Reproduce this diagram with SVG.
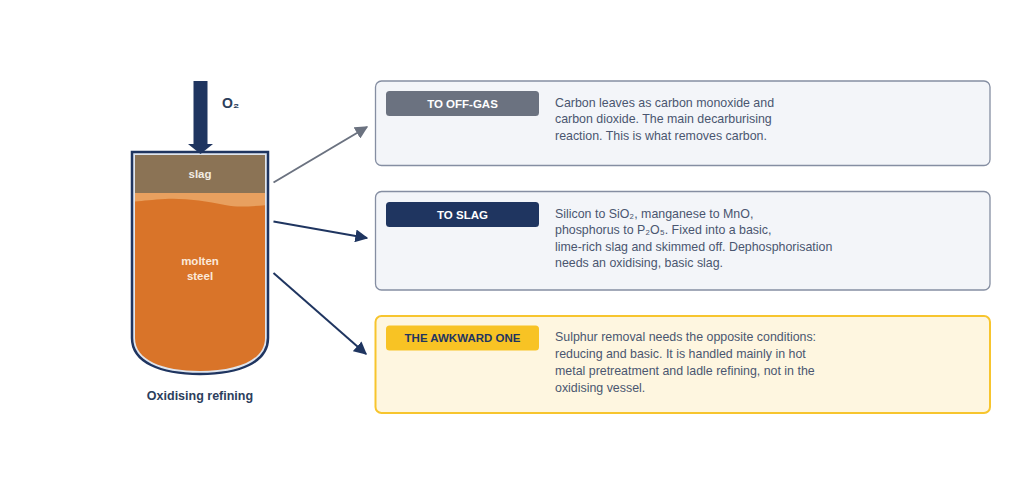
<svg xmlns="http://www.w3.org/2000/svg" width="1024" height="503" viewBox="0 0 1024 503">
<style>
.body{font-family:"Liberation Sans",Arial,sans-serif;font-size:12.4px;fill:#4a5670}
.pill{font-family:"Liberation Sans",Arial,sans-serif;font-size:11.5px;font-weight:bold;text-anchor:middle}
.card{fill:#f3f5f9;stroke:#858ea2;stroke-width:1.3}
.conn{fill:none;stroke-width:2}
</style>
<defs>
<marker id="ag" viewBox="0 0 10 10" refX="9" refY="5" markerWidth="6.5" markerHeight="6.5" orient="auto" markerUnits="strokeWidth"><path d="M0,0 L10,5 L0,10 z" fill="#6b7280"/></marker>
<marker id="an" viewBox="0 0 10 10" refX="9" refY="5" markerWidth="6.5" markerHeight="6.5" orient="auto" markerUnits="strokeWidth"><path d="M0,0 L10,5 L0,10 z" fill="#1f3560"/></marker>
<clipPath id="vclip"><path d="M135,155 V338 C135,360 162,371 200,371 C238,371 265,360 265,338 V155 Z"/></clipPath>
</defs>
<rect width="1024" height="503" fill="#ffffff"/>

<g id="vessel">
<path d="M132,152 V338 C132,362 160,374 200,374 C240,374 268,362 268,338 V152 Z" fill="#dfe5ee" stroke="#1f3560" stroke-width="2.5"/>
<g clip-path="url(#vclip)">
<rect x="130" y="155" width="140" height="220" fill="#d97429"/>
<path d="M130,193 H270 V205 C250,206 240,208 225,205 C205,201 185,198 165,199 C150,200 140,201 130,202 Z" fill="#e8a05f"/>
<rect x="130" y="155" width="140" height="38" fill="#8b7355"/>
</g>
<text x="200" y="178" text-anchor="middle" font-family="'Liberation Sans',Arial,sans-serif" font-size="11.5" font-weight="bold" fill="#f2ece4">slag</text>
<text x="200" y="265" text-anchor="middle" font-family="'Liberation Sans',Arial,sans-serif" font-size="11.5" font-weight="bold" fill="#fbe9da">molten</text>
<text x="200" y="280" text-anchor="middle" font-family="'Liberation Sans',Arial,sans-serif" font-size="11.5" font-weight="bold" fill="#fbe9da">steel</text>
<text x="200" y="400" text-anchor="middle" font-family="'Liberation Sans',Arial,sans-serif" font-size="12.5" font-weight="bold" fill="#2c3e5c">Oxidising refining</text>
</g>

<g id="oxygen">
<rect x="193.5" y="81" width="14" height="64" fill="#1f3560"/>
<path d="M188,144 H213 L200.5,154 Z" fill="#1f3560"/>
<text x="222" y="108" font-family="'Liberation Sans',Arial,sans-serif" font-size="14" font-weight="bold" fill="#2c3e5c">O₂</text>
</g>

<g id="connectors">
<line class="conn" x1="273.5" y1="182.5" x2="367" y2="127" stroke="#6b7280" marker-end="url(#ag)"/>
<line class="conn" x1="273.5" y1="221.5" x2="367" y2="238" stroke="#1f3560" marker-end="url(#an)"/>
<line class="conn" x1="273.5" y1="273" x2="366" y2="354" stroke="#1f3560" marker-end="url(#an)"/>
</g>

<g id="offgas">
<rect class="card" x="375.5" y="81" width="614.5" height="84.5" rx="6"/>
<rect x="386" y="91" width="153" height="25" rx="3.5" fill="#6b7280"/>
<text class="pill" x="462.5" y="107.5" fill="#ffffff">TO OFF-GAS</text>
<text class="body" x="555" y="106.5">Carbon leaves as carbon monoxide and</text>
<text class="body" x="555" y="123">carbon dioxide. The main decarburising</text>
<text class="body" x="555" y="139.5">reaction. This is what removes carbon.</text>
</g>

<g id="toslag">
<rect class="card" x="375.5" y="191.5" width="614.5" height="98.5" rx="6"/>
<rect x="386" y="202" width="153" height="25" rx="3.5" fill="#1f3560"/>
<text class="pill" x="462.5" y="218.5" fill="#ffffff">TO SLAG</text>
<text class="body" x="555" y="217.5">Silicon to SiO₂, manganese to MnO,</text>
<text class="body" x="555" y="234">phosphorus to P₂O₅. Fixed into a basic,</text>
<text class="body" x="555" y="250.5">lime-rich slag and skimmed off. Dephosphorisation</text>
<text class="body" x="555" y="267">needs an oxidising, basic slag.</text>
</g>

<g id="awkward">
<rect x="375.5" y="316" width="614.5" height="97" rx="6" fill="#fef6e0" stroke="#f7c52e" stroke-width="2"/>
<rect x="386" y="325.5" width="153" height="25" rx="3.5" fill="#f8c324"/>
<text class="pill" x="462.5" y="342" fill="#1f3560">THE AWKWARD ONE</text>
<text class="body" x="555" y="341">Sulphur removal needs the opposite conditions:</text>
<text class="body" x="555" y="358">reducing and basic. It is handled mainly in hot</text>
<text class="body" x="555" y="375">metal pretreatment and ladle refining, not in the</text>
<text class="body" x="555" y="392">oxidising vessel.</text>
</g>
</svg>
